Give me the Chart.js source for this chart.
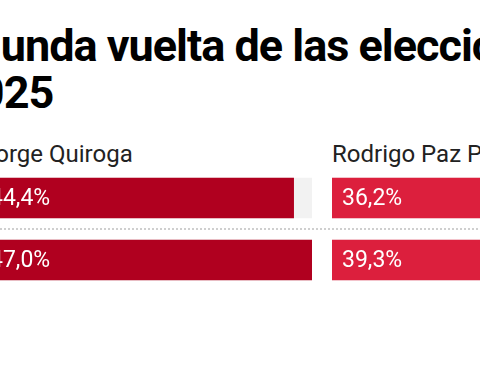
<!DOCTYPE html>
<html>
<head>
<meta charset="utf-8">
<script src="https://cdn.jsdelivr.net/npm/chart.js@4"></script>
<style>
  html, body { margin: 0; padding: 0; background: #fff; }
  body { width: 480px; height: 366px; position: relative; overflow: hidden; font-family: Roboto, sans-serif; }
  .titulo { position: absolute; font-weight: 700; font-size: 45px; letter-spacing: -1px; color: #000; white-space: nowrap; line-height: 47px; }
  .candidato { position: absolute; top: 140px; font-size: 24px; color: #222; white-space: nowrap; }
  .panel { position: absolute; top: 167px; width: 332px; height: 124px; }
  .separador { position: absolute; left: 0; top: 228px; width: 480px; height: 2px;
    background: repeating-linear-gradient(to right, #cfcfcf 0 2px, transparent 2px 4px); }
</style>
</head>
<body>
<div class="titulo" style="left:-74px; top:22px;">Segunda vuelta de las elecciones</div>
<div class="titulo" style="left:-46px; top:69px;">2025</div>

<div class="separador"></div>

<div class="candidato" style="left:-18px;">Jorge Quiroga</div>
<div class="candidato" style="left:332px;">Rodrigo Paz Pereira</div>

<div class="panel" style="left:-20px;"><canvas id="graficoQuiroga"></canvas></div>
<div class="panel" style="left:332px;"><canvas id="graficoPaz"></canvas></div>

<script>
// Datos de la segunda vuelta (dos mediciones por candidato)
const filas = ['Medición 1', 'Medición 2'];
const quiroga = [44.4, 47.0];
const paz = [36.2, 39.3];
const maximo = 47.0;

// Texto del porcentaje dentro de la barra
const etiquetas = {
    id: 'etiquetas',
    afterDatasetsDraw(chart) {
        const ctx = chart.ctx;
        const meta = chart.getDatasetMeta(0);
        ctx.save();
        ctx.fillStyle = '#fff';
        ctx.font = "23px Roboto, sans-serif";
        ctx.textBaseline = 'middle';
        ctx.textAlign = 'left';
        meta.data.forEach((bar, i) => {
            const valor = chart.data.datasets[0].data[i];
            const texto = valor.toFixed(1).replace('.', ',') + '%';
            ctx.fillText(texto, bar.base + 10, bar.y + 1);
        });
        ctx.restore();
    }
};

function crearGrafico(id, datos, color) {
    const ctx = document.getElementById(id).getContext('2d');
    return new Chart(ctx, {
        type: 'bar',
        data: {
            labels: filas,
            datasets: [{
                data: datos,
                backgroundColor: color,
                barThickness: 40,
                grouped: false,
                order: 0
            }, {
                data: filas.map(() => maximo),
                backgroundColor: '#f2f2f2',
                barThickness: 40,
                grouped: false,
                order: 1
            }]
        },
        options: {
            indexAxis: 'y',
            responsive: true,
            maintainAspectRatio: false,
            animation: false,
            layout: { padding: 0 },
            plugins: {
                legend: { display: false },
                tooltip: { enabled: false }
            },
            scales: {
                x: { display: false, min: 0, max: maximo },
                y: { display: false }
            }
        },
        plugins: [etiquetas]
    });
}

crearGrafico('graficoQuiroga', quiroga, '#b0001f');
crearGrafico('graficoPaz', paz, '#dc1f3d');
</script>
</body>
</html>
